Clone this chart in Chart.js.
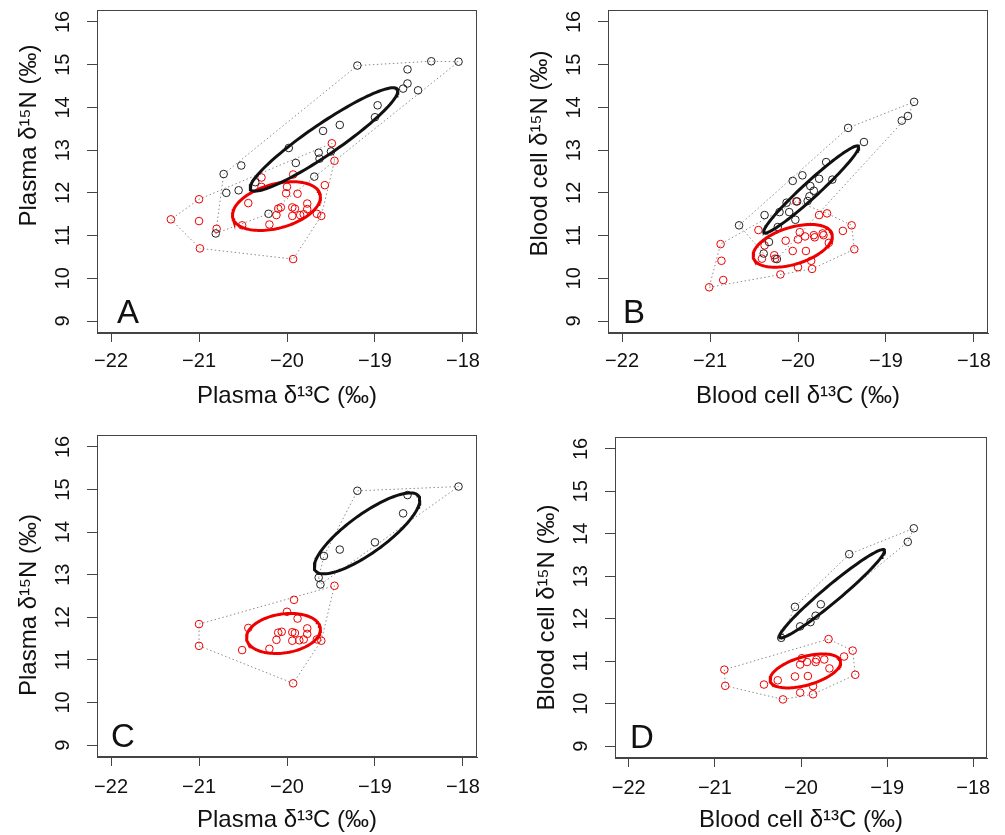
<!DOCTYPE html>
<html lang="en">
<head>
<meta charset="UTF-8">
<title>Plasma and blood cell isotope niches</title>
<script src="https://cdn.jsdelivr.net/npm/chart.js"></script>
<style>
    body {
        margin: 0;
        background: #fff;
    }
    #wrap {
        position: relative;
        width: 1005px;
        height: 835px;
        overflow: hidden;
    }
    #wrap canvas {
        position: absolute;
    }
</style>
</head>
<body>
<div id="wrap">
    <canvas id="panelA"></canvas>
    <canvas id="panelB"></canvas>
    <canvas id="panelC"></canvas>
    <canvas id="panelD"></canvas>
</div>
<script>
// tick labels shared by all panels
const xTicks = [-22, -21, -20, -19, -18];
const yTicks = [9, 10, 11, 12, 13, 14, 15, 16];

// Panel A - plasma, all samples (d13C, d15N)
const A_blackC = [-19.20, -18.36, -18.05, -18.63, -18.63, -18.68, -18.51, -18.97, -19.00, -19.40, -19.59, -19.98, -19.64, -19.50, -19.63, -19.90, -19.69, -20.52, -20.72, -20.36, -20.69, -20.55, -20.21, -20.81];
const A_blackN = [14.98, 15.08, 15.07, 14.89, 14.56, 14.44, 14.40, 14.05, 13.77, 13.59, 13.45, 13.05, 12.94, 12.97, 12.80, 12.70, 12.38, 12.64, 12.44, 12.25, 12.00, 12.06, 11.51, 11.05];
const A_redC = [-19.49, -19.46, -20.29, -20.29, -19.93, -20.00, -20.01, -19.88, -19.57, -21.00, -20.44, -19.77, -19.77, -20.10, -20.07, -19.94, -19.91, -20.12, -19.94, -19.85, -19.81, -19.66, -19.61, -21.32, -21.00, -20.80, -20.51, -20.20, -20.99, -19.93];
const A_redN = [13.16, 12.75, 12.36, 12.14, 12.43, 12.14, 11.99, 11.98, 12.18, 11.85, 11.76, 11.75, 11.62, 11.63, 11.66, 11.66, 11.63, 11.48, 11.46, 11.48, 11.50, 11.51, 11.46, 11.38, 11.34, 11.16, 11.24, 11.26, 10.70, 10.45];

// Panel B - blood cells, all samples
const B_blackC = [-18.68, -18.75, -18.82, -19.43, -19.25, -19.68, -19.95, -20.06, -19.76, -19.61, -19.86, -19.82, -19.87, -19.89, -20.01, -20.13, -20.10, -20.21, -20.38, -20.03, -20.67, -20.23, -20.33, -20.39, -20.24];
const B_blackN = [14.13, 13.80, 13.69, 13.52, 13.19, 12.72, 12.41, 12.28, 12.33, 12.31, 12.16, 12.05, 11.92, 11.81, 11.80, 11.77, 11.55, 11.55, 11.48, 11.37, 11.24, 11.20, 10.85, 10.58, 10.45];
const B_redC = [-20.02, -19.76, -19.67, -20.45, -19.39, -19.49, -19.98, -19.92, -19.82, -19.81, -19.72, -19.71, -19.65, -20.14, -20.00, -20.88, -20.38, -20.06, -19.91, -19.36, -20.87, -20.41, -20.27, -20.26, -19.85, -20.00, -19.84, -20.20, -20.85, -21.01];
const B_redN = [11.80, 11.48, 11.52, 11.13, 11.24, 11.11, 11.08, 10.98, 11.01, 10.96, 11.05, 11.01, 10.83, 10.88, 10.91, 10.80, 10.77, 10.64, 10.64, 10.68, 10.41, 10.46, 10.54, 10.46, 10.41, 10.26, 10.22, 10.09, 9.96, 9.79];

// Panel C - plasma, subset
const C_blackC = [-19.20, -18.05, -18.63, -18.68, -19.00, -19.40, -19.58, -19.64, -19.62];
const C_blackN = [14.97, 15.07, 14.87, 14.44, 13.76, 13.59, 13.44, 12.93, 12.77];
const C_redC = [-19.46, -19.92, -20.00, -19.88, -21.00, -20.44, -19.77, -19.77, -20.10, -20.06, -19.94, -19.91, -20.12, -19.94, -19.86, -19.81, -19.66, -19.61, -21.00, -20.51, -20.20, -19.93];
const C_redN = [12.74, 12.41, 12.13, 11.97, 11.84, 11.75, 11.74, 11.61, 11.64, 11.66, 11.65, 11.63, 11.47, 11.45, 11.46, 11.48, 11.48, 11.45, 11.33, 11.23, 11.26, 10.45];

// Panel D - blood cells, subset
const D_blackC = [-18.69, -18.76, -19.44, -20.07, -19.77, -19.83, -19.89, -20.01, -20.23];
const D_blackN = [14.13, 13.81, 13.52, 12.28, 12.34, 12.07, 11.92, 11.82, 11.55];
const D_redC = [-19.68, -19.40, -19.50, -19.99, -19.93, -19.83, -19.82, -19.73, -20.01, -19.67, -20.89, -20.27, -20.07, -19.92, -19.37, -20.88, -20.43, -19.86, -20.01, -19.86, -20.21];
const D_redN = [11.52, 11.25, 11.11, 11.07, 10.98, 10.98, 11.04, 11.04, 10.92, 10.83, 10.80, 10.55, 10.64, 10.65, 10.68, 10.42, 10.45, 10.41, 10.26, 10.22, 10.10];

// standard ellipses: [centre C, centre N, sd C, sd N, correlation]
const A_blackEll = [-19.58, 13.25, 0.84, 1.21, 0.935];
const A_redEll = [-20.12, 11.69, 0.50, 0.57, 0.37];
const B_blackEll = [-19.85, 12.08, 0.54, 1.02, 0.97];
const B_redEll = [-20.06, 10.76, 0.45, 0.50, 0.45];
const C_blackEll = [-19.09, 13.97, 0.60, 0.95, 0.82];
const C_redEll = [-20.04, 11.62, 0.42, 0.47, 0.20];
const D_blackEll = [-19.64, 12.59, 0.61, 1.04, 0.97];
const D_redEll = [-19.95, 10.77, 0.41, 0.40, 0.50];

const FONT = '"Liberation Sans", Arial, Helvetica, sans-serif';
const BLACK = '#111';
const RED = '#ee0000';
const AXIS = '#444';

function toPoints(xs, ys) {
    return xs.map((x, i) => ({ x: x, y: ys[i] }));
}

// convex hull (monotone chain), closed
function hull(pts) {
    const p = pts.slice().sort((a, b) => a.x - b.x || a.y - b.y);
    const cross = (o, a, b) => (a.x - o.x) * (b.y - o.y) - (a.y - o.y) * (b.x - o.x);
    const lower = [];
    for (const q of p) {
        while (lower.length >= 2 && cross(lower[lower.length - 2], lower[lower.length - 1], q) <= 0) lower.pop();
        lower.push(q);
    }
    const upper = [];
    for (let i = p.length - 1; i >= 0; i--) {
        const q = p[i];
        while (upper.length >= 2 && cross(upper[upper.length - 2], upper[upper.length - 1], q) <= 0) upper.pop();
        upper.push(q);
    }
    upper.pop();
    lower.pop();
    const h = lower.concat(upper);
    h.push(h[0]);
    return h;
}

// outline of an ellipse given its centre, sds and correlation
function ellipse(e) {
    const [cx, cy, sx, sy, r] = e;
    const out = [];
    for (let i = 0; i <= 120; i++) {
        const t = i / 120 * 2 * Math.PI;
        out.push({
            x: cx + sx * Math.cos(t),
            y: cy + sy * (r * Math.cos(t) + Math.sqrt(1 - r * r) * Math.sin(t))
        });
    }
    return out;
}

// box, rotated y labels (R style) and the panel letter
const rFrame = {
    id: 'rFrame',
    afterDraw(chart, args, opts) {
        const { ctx, chartArea: a } = chart;
        const y = chart.scales.y;
        ctx.save();
        ctx.strokeStyle = AXIS;
        ctx.lineWidth = 1;
        ctx.strokeRect(a.left + 0.5, a.top + 0.5, a.right - a.left - 1, a.bottom - a.top - 1);

        ctx.fillStyle = BLACK;
        ctx.textAlign = 'center';
        ctx.textBaseline = 'middle';
        ctx.font = '20px ' + FONT;
        yTicks.forEach(v => {
            ctx.save();
            ctx.translate(a.left - 33.5, y.getPixelForValue(v));
            ctx.rotate(-Math.PI / 2);
            ctx.fillText(String(v), 0, 0);
            ctx.restore();
        });

        ctx.font = '24px ' + FONT;
        ctx.save();
        ctx.translate(a.left - 68, (a.top + a.bottom) / 2 + opts.titleShift);
        ctx.rotate(-Math.PI / 2);
        ctx.fillText(opts.yTitle, 0, 0);
        ctx.restore();

        ctx.font = '33px ' + FONT;
        ctx.textAlign = 'left';
        ctx.textBaseline = 'alphabetic';
        ctx.fillText(opts.letter, a.left + opts.letterDx, a.bottom - 10);
        ctx.restore();
    }
};

function makePanel(id, box, cfg) {
    const canvas = document.getElementById(id);
    canvas.width = box.w;
    canvas.height = box.h;
    canvas.style.left = box.left + 'px';
    canvas.style.top = box.top + 'px';

    const black = toPoints(cfg.blackC, cfg.blackN);
    const red = toPoints(cfg.redC, cfg.redN);
    const lineSet = (data, color, width, dash, order) => ({
        data: data,
        showLine: true,
        borderColor: color,
        borderWidth: width,
        borderDash: dash,
        pointRadius: 0,
        fill: false,
        tension: 0,
        order: order
    });
    const pointSet = (data, color) => ({
        data: data,
        showLine: false,
        pointStyle: 'circle',
        pointRadius: 3.8,
        pointBorderWidth: 1,
        borderColor: color,
        backgroundColor: 'rgba(0,0,0,0)',
        order: 1
    });

    return new Chart(canvas, {
        type: 'scatter',
        data: {
            datasets: [
                lineSet(ellipse(cfg.blackEll), BLACK, 3, [], 0),
                lineSet(ellipse(cfg.redEll), RED, 3, [], 0),
                pointSet(black, '#222'),
                pointSet(red, RED),
                lineSet(hull(black), '#8c8c8c', 1, [1.5, 2.5], 2),
                lineSet(hull(red), '#8c8c8c', 1, [1.5, 2.5], 2)
            ]
        },
        options: {
            responsive: false,
            animation: false,
            devicePixelRatio: 1,
            layout: { padding: { top: box.padT, right: box.padR, bottom: 0, left: 0 } },
            plugins: {
                legend: { display: false },
                tooltip: { enabled: false },
                rFrame: { yTitle: cfg.yTitle, letter: cfg.letter, letterDx: cfg.letterDx, titleShift: cfg.titleShift }
            },
            scales: {
                x: {
                    type: 'linear',
                    min: -22.16,
                    max: -17.84,
                    afterBuildTicks: s => { s.ticks = xTicks.map(v => ({ value: v })); },
                    afterFit: s => { s.height = box.xH; },
                    grid: { drawOnChartArea: false, drawTicks: true, tickLength: 9, color: AXIS },
                    border: { display: true, color: AXIS },
                    ticks: {
                        padding: box.tickPad,
                        color: BLACK,
                        font: { family: FONT, size: 20 },
                        maxRotation: 0,
                        callback: v => String(v).replace('-', '\u2212')
                    },
                    title: {
                        display: true,
                        text: cfg.xTitle,
                        color: BLACK,
                        font: { family: FONT, size: 24, lineHeight: 1.2 },
                        padding: { top: 0, bottom: box.titlePad }
                    }
                },
                y: {
                    type: 'linear',
                    min: 8.72,
                    max: 16.28,
                    afterBuildTicks: s => { s.ticks = yTicks.map(v => ({ value: v })); },
                    afterFit: s => { s.width = 97; },
                    grid: { drawOnChartArea: false, drawTicks: true, tickLength: 10, color: AXIS },
                    border: { display: true, color: AXIS },
                    ticks: { display: false }
                }
            }
        },
        plugins: [rFrame]
    });
}

makePanel('panelA', { left: 0, top: 0, w: 502, h: 415, padT: 10, padR: 25, xH: 82, tickPad: 7, titlePad: 4 }, {
    blackC: A_blackC, blackN: A_blackN, redC: A_redC, redN: A_redN,
    blackEll: A_blackEll, redEll: A_redEll,
    xTitle: 'Plasma \u03b4\u00b9\u00b3C (\u2030)', yTitle: 'Plasma \u03b4\u00b9\u2075N (\u2030)',
    letter: 'A', letterDx: 20, titleShift: -36
});
makePanel('panelB', { left: 511, top: 0, w: 494, h: 415, padT: 10, padR: 17, xH: 82, tickPad: 7, titlePad: 4 }, {
    blackC: B_blackC, blackN: B_blackN, redC: B_redC, redN: B_redN,
    blackEll: B_blackEll, redEll: B_redEll,
    xTitle: 'Blood cell \u03b4\u00b9\u00b3C (\u2030)', yTitle: 'Blood cell \u03b4\u00b9\u2075N (\u2030)',
    letter: 'B', letterDx: 15, titleShift: -18
});
makePanel('panelC', { left: 0, top: 415, w: 502, h: 420, padT: 20, padR: 25, xH: 78, tickPad: 9, titlePad: 0 }, {
    blackC: C_blackC, blackN: C_blackN, redC: C_redC, redN: C_redN,
    blackEll: C_blackEll, redEll: C_redEll,
    xTitle: 'Plasma \u03b4\u00b9\u00b3C (\u2030)', yTitle: 'Plasma \u03b4\u00b9\u2075N (\u2030)',
    letter: 'C', letterDx: 14, titleShift: 9
});
makePanel('panelD', { left: 518, top: 415, w: 487, h: 420, padT: 22, padR: 18, xH: 77, tickPad: 9, titlePad: 0 }, {
    blackC: D_blackC, blackN: D_blackN, redC: D_redC, redN: D_redN,
    blackEll: D_blackEll, redEll: D_redEll,
    xTitle: 'Blood cell \u03b4\u00b9\u00b3C (\u2030)', yTitle: 'Blood cell \u03b4\u00b9\u2075N (\u2030)',
    letter: 'D', letterDx: 15, titleShift: 10
});
</script>
</body>
</html>
